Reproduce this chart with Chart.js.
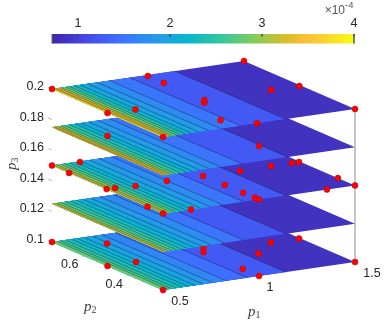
<!DOCTYPE html>
<html>
<head>
<meta charset="utf-8">
<style>
  html, body { margin: 0; padding: 0; background: #fff; }
  canvas { display: block; }
</style>
<script src="https://cdn.jsdelivr.net/npm/chart.js@4"></script>
</head>
<body>
<canvas id="sliceChart" width="392" height="321"></canvas>
<script>
// slice heights and the parameter box
const p3Slices = [0.1, 0.125, 0.15, 0.175, 0.2];
const p1Range = [0.5, 1.5];
const p2Range = [0.25, 0.75];

// contour positions along p1 for each slice
const breaks100 = [1.14, 0.94, 0.83, 0.76, 0.71, 0.665, 0.63, 0.60, 0.57, 0.545, 0.525];
const breaks125 = [1.14, 0.92, 0.82, 0.75, 0.70, 0.66, 0.625, 0.595, 0.57, 0.545, 0.525, 0.51];
const breaks150 = [1.14, 0.92, 0.81, 0.745, 0.695, 0.65, 0.62, 0.59, 0.565, 0.545, 0.525, 0.51];
const breaks175 = [1.15, 0.91, 0.80, 0.74, 0.69, 0.65, 0.62, 0.59, 0.565, 0.545, 0.53, 0.515, 0.505];
const breaks200 = [1.14, 0.905, 0.80, 0.735, 0.685, 0.645, 0.615, 0.59, 0.57, 0.55, 0.535, 0.52, 0.51];
const sliceBreaks = [breaks100, breaks125, breaks150, breaks175, breaks200];

// band values (x 1e-4) per slice, highest p1 first
const bands100 = [0.85, 1.25, 1.45, 1.65, 1.8, 1.95, 2.1, 2.2, 2.35, 2.5, 2.65, 2.8];
const bands125 = [0.85, 1.25, 1.5, 1.7, 1.85, 2.0, 2.15, 2.3, 2.45, 2.6, 2.8, 3.05, 3.3];
const bands150 = [0.85, 1.25, 1.5, 1.7, 1.85, 2.0, 2.15, 2.3, 2.5, 2.7, 2.9, 3.15, 3.4];
const bands175 = [0.85, 1.25, 1.5, 1.7, 1.85, 2.0, 2.15, 2.35, 2.55, 2.75, 3.0, 3.25, 3.45, 3.7];
const bands200 = [0.85, 1.25, 1.5, 1.7, 1.85, 2.0, 2.2, 2.4, 2.6, 2.85, 3.1, 3.35, 3.6, 3.9];
const sliceBands = [bands100, bands125, bands150, bands175, bands200];

// sample points
const dotP1 = [0.5, 0.97, 0.99, 0.99, 0.993, 1.5, 1.344, 1.49, 1.5, 0.5, 0.64, 0.5, 0.875, 0.99,
  0.6375, 1.1375,
  0.64, 0.5, 0.5, 0.5, 0.543, 0.64, 0.808, 1.348, 1.457, 1.494, 1.183, 0.994, 1.5, 0.998, 1, 1, 1, 1.354, 1.5, 0.5, 0.5, 0.646,
  1.045, 1, 1.348, 1.494, 1.2, 1, 1, 1.5, 0.7, 0.647, 0.5, 0.5, 0.5];
const dotP2 = [0.75, 0.47, 0.742, 0.67, 0.49, 0.75, 0.493, 0.492, 0.25, 0.5, 0.495, 0.25, 0.315, 0.25,
  0.619, 0.369,
  0.745, 0.75, 0.673, 0.504, 0.503, 0.495, 0.499, 0.497, 0.497, 0.497, 0.494, 0.497, 0.327, 0.402, 0.321, 0.269, 0.25, 0.25, 0.25, 0.32, 0.25, 0.25,
  0.539, 0.5, 0.497, 0.497, 0.425, 0.323, 0.25, 0.25, 0.675, 0.499, 0.5, 0.25, 0.75];
const dotP3 = [0.2, 0.2, 0.2, 0.2, 0.2, 0.2, 0.2, 0.2, 0.2, 0.2, 0.2, 0.2, 0.2, 0.2,
  0.175, 0.175,
  0.15, 0.15, 0.15, 0.15, 0.15, 0.15, 0.15, 0.15, 0.15, 0.15, 0.15, 0.15, 0.15, 0.15, 0.15, 0.15, 0.15, 0.15, 0.15, 0.15, 0.15, 0.15,
  0.1, 0.1, 0.1, 0.1, 0.1, 0.1, 0.1, 0.1, 0.1, 0.1, 0.1, 0.1, 0.1];

// tick labels
const p1Ticks = [0.5, 1, 1.5];
const p2Ticks = [0.6, 0.4];
const p3Ticks = [0.2, 0.18, 0.16, 0.14, 0.12, 0.1];
const colorTicks = [1, 2, 3, 4];
const colorRange = [0.72, 4];

// parula, sampled
const parula = [[62,38,168],[71,71,235],[62,111,255],[39,151,235],[8,181,208],[49,198,159],[129,204,89],[220,189,41],[254,190,60],[252,206,46],[249,251,21]];
const parulaPos = [0, 7/63, 14/63, 21/63, 28/63, 35/63, 42/63, 49/63, 53/63, 56/63, 1];

function colorAt(v) {
  const t = Math.min(1, Math.max(0, (v - colorRange[0]) / (colorRange[1] - colorRange[0])));
  let i = 0;
  while (i < parulaPos.length - 2 && t > parulaPos[i + 1]) i++;
  const f = (t - parulaPos[i]) / (parulaPos[i + 1] - parulaPos[i]);
  const c = parula[i].map((a, k) => Math.round(a + (parula[i + 1][k] - a) * f));
  return 'rgb(' + c.join(',') + ')';
}

// fixed 3d view of the box, gives chart coordinates
function view(p1, p2, p3) {
  const a = p1 - p1Range[0];
  const b = p2 - p2Range[0];
  return {
    x: 163 + a * 192 - b * 222,
    y: 290 - a * 28 - b * 96 - (p3 - 0.1) * 1530
  };
}
const barX = v => 78 + (v - 1) * 92;

const datasets = [];
function add(data, opts) {
  // lower order is painted later, so count downwards
  datasets.push(Object.assign({
    data: data,
    order: -datasets.length,
    showLine: true,
    pointRadius: 0,
    borderWidth: 0,
    fill: false,
    tension: 0
  }, opts));
}
function addLine(data, color, width) {
  add(data, { borderColor: color, borderWidth: width });
}
function addShape(data, color) {
  add(data, { fill: 'shape', backgroundColor: color, borderColor: color, borderWidth: 0 });
}

// axis lines and ticks behind the slices
addLine([view(1.5, 0.25, 0.1), view(1.5, 0.25, 0.2)], '#8c8c8c', 1);
p3Ticks.forEach(t => addLine([view(0.5, 0.75, t), view(0.5, 0.768, t)], '#a0a0a0', 0.7));
p2Ticks.forEach(t => addLine([view(0.5, t, 0.1), view(0.48, t, 0.1)], '#c4c4c4', 0.7));

// slices bottom to top, each band nested in the one before
p3Slices.forEach((p3, s) => {
  const breaks = sliceBreaks[s];
  sliceBands[s].slice(0, breaks.length + 1).forEach((v, k) => {
    const top = k === 0 ? p1Range[1] : breaks[k - 1];
    addShape([
      view(p1Range[0], p2Range[0], p3),
      view(top, p2Range[0], p3),
      view(top, p2Range[1], p3),
      view(p1Range[0], p2Range[1], p3),
      view(p1Range[0], p2Range[0], p3)
    ], colorAt(v));
  });
  breaks.forEach(b => addLine([view(b, p2Range[0], p3), view(b, p2Range[1], p3)], 'rgba(10,10,40,0.6)', 0.6));
  const pts = [];
  dotP3.forEach((d, i) => { if (d === p3) pts.push(view(dotP1[i], dotP2[i], d)); });
  if (pts.length) add(pts, {
    showLine: false,
    pointRadius: 3,
    pointBorderWidth: 0.5,
    pointBorderColor: '#c00000',
    pointBackgroundColor: '#ff0000'
  });
});

// colour bar
const barTop = 34, barBottom = 43.5;
add([
  { x: barX(colorRange[0]), y: barTop },
  { x: barX(colorRange[1]), y: barTop },
  { x: barX(colorRange[1]), y: barBottom },
  { x: barX(colorRange[0]), y: barBottom },
  { x: barX(colorRange[0]), y: barTop }
], {
  fill: 'shape',
  backgroundColor: ctx => {
    const g = ctx.chart.ctx.createLinearGradient(barX(colorRange[0]), 0, barX(colorRange[1]), 0);
    parula.forEach((c, i) => g.addColorStop(parulaPos[i], 'rgb(' + c.join(',') + ')'));
    return g;
  }
});
colorTicks.forEach(t => addLine([{ x: barX(t), y: barTop }, { x: barX(t), y: barTop + 2.5 }], '#404040', 0.6));
addLine([{ x: barX(colorRange[0]), y: barTop }, { x: barX(colorRange[0]), y: barBottom }], '#555555', 0.7);
addLine([{ x: barX(colorRange[1]), y: barTop }, { x: barX(colorRange[1]), y: barBottom }], '#555555', 0.7);

// tick text, axis names
const textPlugin = {
  id: 'sliceText',
  afterDraw(chart) {
    const c = chart.ctx;
    const sx = chart.scales.x, sy = chart.scales.y;
    const put = (txt, x, y, align) => {
      c.textAlign = align || 'center';
      c.fillText(txt, sx.getPixelForValue(x), sy.getPixelForValue(y));
    };
    c.save();
    c.textBaseline = 'middle';
    c.fillStyle = '#262626';
    c.font = '12.5px "Liberation Sans", Arial, sans-serif';
    colorTicks.forEach(t => put(String(t), barX(t), 24));
    p3Ticks.forEach(t => {
      const q = view(0.5, 0.75, t);
      put(String(t), q.x - 8, q.y - 2.5, 'right');
    });
    p2Ticks.forEach(t => {
      const q = view(0.5, t, 0.1);
      put(String(t), q.x - 15.5, q.y + 8.5);
    });
    p1Ticks.forEach(t => {
      const q = view(t, 0.25, 0.1);
      put(String(t), q.x + (t === 1 ? 11 : 17), q.y + 12);
    });
    // exponent above the bar
    c.fillStyle = '#555555';
    c.font = '12px "Liberation Sans", Arial, sans-serif';
    put('\u00d710', 345, 10.5, 'right');
    c.font = '9.5px "Liberation Sans", Arial, sans-serif';
    put('-4', 345, 5.5, 'left');

    // p1, p2, p3
    const name = (sub, x, y, rot) => {
      c.save();
      c.translate(x, y);
      c.rotate(rot);
      c.fillStyle = '#404040';
      c.textAlign = 'left';
      c.font = 'italic 15px "Liberation Serif", serif';
      c.fillText('p', -6, 0);
      c.font = '10px "Liberation Serif", serif';
      c.fillText(sub, 1.5, 3);
      c.restore();
    };
    name('1', 254, 312, 0);
    name('2', 90, 307, 0);
    name('3', 12, 164, -Math.PI / 2);
    c.restore();
  }
};

new Chart(document.getElementById('sliceChart').getContext('2d'), {
  type: 'scatter',
  data: { datasets: datasets },
  options: {
    responsive: false,
    animation: false,
    layout: { padding: 0, autoPadding: false },
    plugins: { legend: { display: false }, tooltip: { enabled: false } },
    scales: {
      x: { type: 'linear', display: false, min: 0, max: 392 },
      y: { type: 'linear', display: false, min: 0, max: 321, reverse: true }
    }
  },
  plugins: [textPlugin]
});
</script>
</body>
</html>
